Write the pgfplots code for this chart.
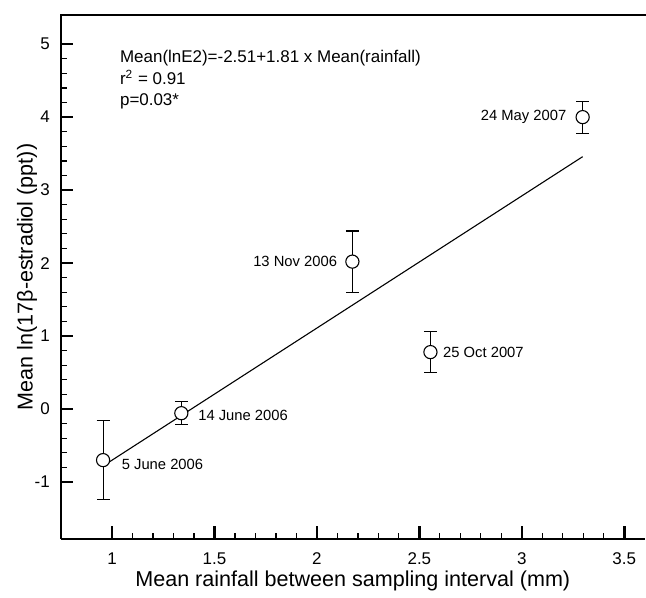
\documentclass[border=0pt]{standalone}
\usepackage{fontspec}
\setmainfont{Liberation Sans}
\usepackage{pgfplots}
\pgfplotsset{compat=1.18}

\begin{document}
\begin{tikzpicture}
\begin{axis}[
name=ax,
scale only axis,
width=292.5pt,height=262.5pt,
xmin=0.75,xmax=3.6,ymin=-1.78,ymax=5.4,
axis x line*=bottom,axis y line*=left,
axis line style={line width=1.3pt,-},
clip=false,
xtick={1,1.5,2,2.5,3,3.5},
ytick={-1,0,1,2,3,4,5},
minor x tick num=4,minor y tick num=4,
tick align=inside,
major tick length=6.3pt,minor tick length=3pt,
major tick style={line width=1.3pt,black},
minor tick style={line width=0.6pt,black},
/pgf/number format/assume math mode=true,
tick label style={font=\fontsize{8.5}{10}\selectfont},
xticklabel style={yshift=-3.5pt},
yticklabel style={xshift=-2pt},
xlabel={Mean rainfall between sampling interval (mm)},
ylabel={Mean ln(17β-estradiol (ppt))},
label style={font=\fontsize{10.8}{13}\selectfont},
xlabel style={at={(axis description cs:0.5,0)},anchor=center,yshift=-21pt},
ylabel style={at={(axis description cs:-0.058,0.5)},anchor=center},
]
% regression line Mean(lnE2) = -2.51 + 1.81 x
\addplot[black,line width=0.55pt] coordinates {(0.956,-0.780)(3.297,3.458)};

\addplot[only marks,mark=*,mark size=3.3pt,
  mark options={fill=white,draw=black,line width=0.55pt},
  error bars/.cd,y dir=both,y explicit,
  error bar style={line width=0.55pt,black},
  error mark=-,
  error mark options={rotate=90,line width=0.55pt,mark size=3.25pt,black}]
coordinates {
(0.956,-0.70) +- (0,0.54)
(1.338,-0.057) +- (0,0.155)
(2.173,2.02) +- (0,0.42)
(2.554,0.78) +- (0,0.285)
(3.297,4.00) +- (0,0.22)
};

\draw[line width=1.3pt,line cap=rect] (rel axis cs:0,1) -- (rel axis cs:1,1);

\begin{scope}[every node/.style={font=\fontsize{7.4}{9}\selectfont,inner sep=0pt}]
\node[anchor=west,xshift=9.2pt,yshift=-2pt] at (axis cs:0.956,-0.70) {5 June 2006};
\node[anchor=west,xshift=8.3pt,yshift=-1.2pt] at (axis cs:1.338,-0.057) {14 June 2006};
\node[anchor=east,xshift=-7.5pt] at (axis cs:2.173,2.02) {13 Nov 2006};
\node[anchor=west,xshift=6.2pt] at (axis cs:2.554,0.78) {25 Oct 2007};
\node[anchor=east,xshift=-8pt] at (axis cs:3.297,4.00) {24 May 2007};
\end{scope}

\node[anchor=north west,inner sep=0pt,align=left,font=\fontsize{8.5}{10.8}\selectfont]
  at (axis cs:1.037,4.92)
  {Mean(lnE2)=-2.51+1.81 x Mean(rainfall)\\r\textsuperscript{2} = 0.91\\p=0.03*};
\end{axis}
\path (ax.south west) ++(-30.5pt,-28pt);
\path (ax.north east) ++(0pt,7.5pt);
\end{tikzpicture}
\end{document}
